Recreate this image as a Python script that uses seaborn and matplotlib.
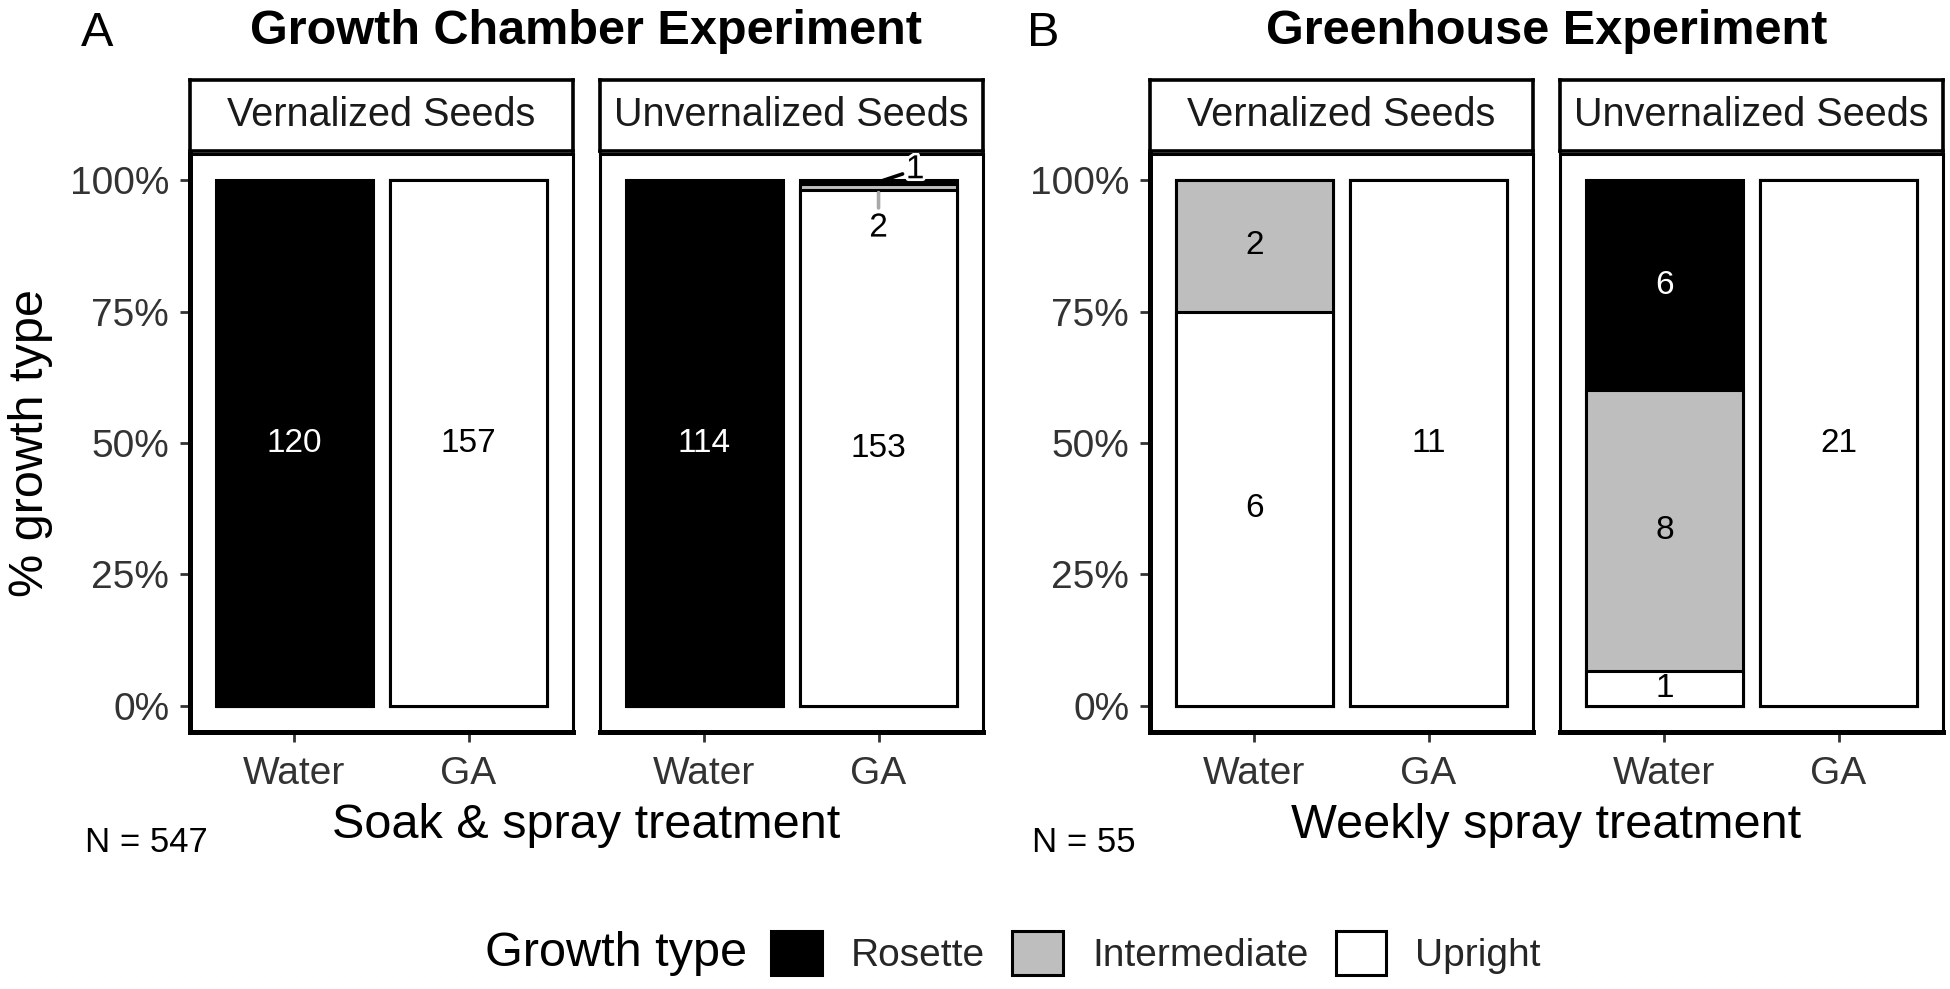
import matplotlib
matplotlib.use("Agg")
import matplotlib.pyplot as plt
import matplotlib.patheffects as pe
import seaborn as sns
import pandas as pd
from matplotlib.patches import Patch

# ---------------- data ----------------
experiments = ["Growth Chamber Experiment", "Greenhouse Experiment"]
panel_letters = ["A", "B"]
x_titles = ["Soak & spray treatment", "Weekly spray treatment"]
seed_groups = ["Vernalized Seeds", "Unvernalized Seeds"]
treatments = ["Water", "GA"]
growth_types = ["Rosette", "Intermediate", "Upright"]   # top -> bottom in the stack
y_ticks = [0, 0.25, 0.5, 0.75, 1.0]
y_tick_labels = ["0%", "25%", "50%", "75%", "100%"]

# counts per growth type [Rosette, Intermediate, Upright]
chamber_vern_water = [120, 0, 0]
chamber_vern_ga = [0, 0, 157]
chamber_unvern_water = [114, 0, 0]
chamber_unvern_ga = [1, 2, 153]
greenhouse_vern_water = [0, 2, 6]
greenhouse_vern_ga = [0, 0, 11]
greenhouse_unvern_water = [6, 8, 1]
greenhouse_unvern_ga = [0, 0, 21]

counts = {
    (experiments[0], seed_groups[0], "Water"): chamber_vern_water,
    (experiments[0], seed_groups[0], "GA"): chamber_vern_ga,
    (experiments[0], seed_groups[1], "Water"): chamber_unvern_water,
    (experiments[0], seed_groups[1], "GA"): chamber_unvern_ga,
    (experiments[1], seed_groups[0], "Water"): greenhouse_vern_water,
    (experiments[1], seed_groups[0], "GA"): greenhouse_vern_ga,
    (experiments[1], seed_groups[1], "Water"): greenhouse_unvern_water,
    (experiments[1], seed_groups[1], "GA"): greenhouse_unvern_ga,
}

rows = []
for (exp, seed, trt), vals in counts.items():
    total = sum(vals)
    below = 0.0
    # stack from the bottom: Upright, Intermediate, Rosette
    for g, c in zip(growth_types[::-1], vals[::-1]):
        p = c / total
        rows.append(dict(experiment=exp, seed=seed, treatment=trt, growth=g,
                         count=c, prop=p, bottom=below, top=below + p))
        below += p
df = pd.DataFrame(rows)

# ---------------- style ----------------
colors = {"Rosette": "#000000", "Intermediate": "#BEBEBE", "Upright": "#FFFFFF"}
text_colors = {"Rosette": "white", "Intermediate": "black", "Upright": "black"}
# repelled labels for very thin segments (offset in x units, label y, leader colour)
repel = {
    (experiments[0], seed_groups[1], "GA", "Rosette"): (0.21, 1.02, "black", 0, 3),
    (experiments[0], seed_groups[1], "GA", "Intermediate"): (0.0, 0.909, "#A8A8A8", 1, 4),
}

sns.set_style("white")
plt.rcParams["font.family"] = ["Liberation Sans", "DejaVu Sans"]

W, H = 1950, 989
fig = plt.figure(figsize=(W / 100, H / 100), dpi=100)


def fx(px):
    return px / W


def fy(py):
    return 1 - py / H


panel_left_px = {(0, 0): 190, (0, 1): 600, (1, 0): 1150, (1, 1): 1560}
panel_w_px = 383
panel_top_px, panel_bot_px = 154, 732
strip_top_px, strip_bot_px = 80, 151
edge_lw = 2.2
tick_grey = "#333333"

for ei, exp in enumerate(experiments):
    for si, seed in enumerate(seed_groups):
        lp = panel_left_px[(ei, si)]
        ax = fig.add_axes([fx(lp), fy(panel_bot_px), panel_w_px / W,
                           (panel_bot_px - panel_top_px) / H])
        sub = df[(df.experiment == exp) & (df.seed == seed)]
        # draw cumulative tops from the top layer down so each covers the one beneath
        for g in growth_types:
            layer = sub[sub.growth == g]
            sns.barplot(data=layer, x="treatment", y="top", order=treatments,
                        color=colors[g], edgecolor="black", linewidth=edge_lw,
                        width=0.9, errorbar=None, saturation=1, ax=ax)
        # labels
        for _, r in sub[sub["count"] > 0].iterrows():
            xi = treatments.index(r.treatment)
            mid = (r.bottom + r.top) / 2
            key = (exp, seed, r.treatment, r.growth)
            if key in repel:
                dx, ty, lc, sa, sb = repel[key]
                ax.annotate(str(r["count"]), xy=(xi, mid), xytext=(xi + dx, ty),
                            ha="center", va="center", fontsize=24, color="black",
                            path_effects=[pe.withStroke(linewidth=4, foreground="white")],
                            arrowprops=dict(arrowstyle="-", color=lc, lw=2.6,
                                            shrinkA=sa, shrinkB=sb),
                            zorder=6, annotation_clip=False)
            else:
                ax.text(xi, mid, str(r["count"]), ha="center", va="center",
                        fontsize=24, color=text_colors[r.growth], zorder=6)

        ax.set_xlim(-0.6, 1.6)
        ax.set_ylim(-0.05, 1.05)
        ax.set_xlabel("")
        ax.set_ylabel("")
        ax.set_yticks(y_ticks)
        ax.tick_params(axis="x", length=7, width=2, color=tick_grey, pad=10,
                       labelsize=28, labelcolor=tick_grey, bottom=True)
        if si == 0:
            ax.set_yticklabels(y_tick_labels)
            ax.tick_params(axis="y", length=7, width=2, color=tick_grey, pad=8,
                           labelsize=28, labelcolor=tick_grey, left=True)
        else:
            ax.tick_params(axis="y", left=False, labelleft=False)
        for side, sp in ax.spines.items():
            sp.set_visible(True)
            sp.set_color("black")
            sp.set_linewidth(2.2)
        ax.spines["bottom"].set_linewidth(3.6)
        if si == 0:
            ax.spines["left"].set_linewidth(3.6)

        # facet strip
        sax = fig.add_axes([fx(lp), fy(strip_bot_px), panel_w_px / W,
                            (strip_bot_px - strip_top_px) / H])
        sax.set_xticks([])
        sax.set_yticks([])
        sax.set_facecolor("white")
        for sp in sax.spines.values():
            sp.set_visible(True)
            sp.set_color("black")
            sp.set_linewidth(2.6)
        sax.text(0.5, 0.5, seed, ha="center", va="center", fontsize=28.5,
                 color="#1A1A1A", transform=sax.transAxes)

    # experiment titles, x titles and sample sizes
    left_px = panel_left_px[(ei, 0)]
    right_px = panel_left_px[(ei, 1)] + panel_w_px
    cx = fx((left_px + right_px) / 2)
    fig.text(cx, fy(32), exp, ha="center", va="center", fontsize=35,
             fontweight="bold", color="black")
    fig.text(fx([81, 1027][ei]), fy(34), panel_letters[ei], ha="left",
             va="center", fontsize=35, color="black")
    fig.text(cx, fy(826), x_titles[ei], ha="center", va="center", fontsize=35,
             color="black")
    n_total = int(df[df.experiment == exp]["count"].sum())
    fig.text(fx([85, 1032][ei]), fy(843), f"N = {n_total}", ha="left",
             va="center", fontsize=25, color="black")

# y axis title
fig.text(fx(31), fy((panel_top_px + panel_bot_px) / 2), "% growth type",
         rotation=90, ha="center", va="center", fontsize=35, color="black")

# legend
handles = [Patch(facecolor=colors[g], edgecolor="black", linewidth=2.2)
           for g in growth_types]
fig.legend(handles, growth_types, loc="center", bbox_to_anchor=(fx(1156), fy(953)),
           ncol=3, frameon=False, fontsize=28, handlelength=1.3,
           handleheight=1.33, handletextpad=0.75, columnspacing=0.7)
fig.text(fx(747), fy(953), "Growth type", ha="right", va="center", fontsize=35,
         color="black")

fig.savefig("out.png", dpi=100, facecolor="white")
